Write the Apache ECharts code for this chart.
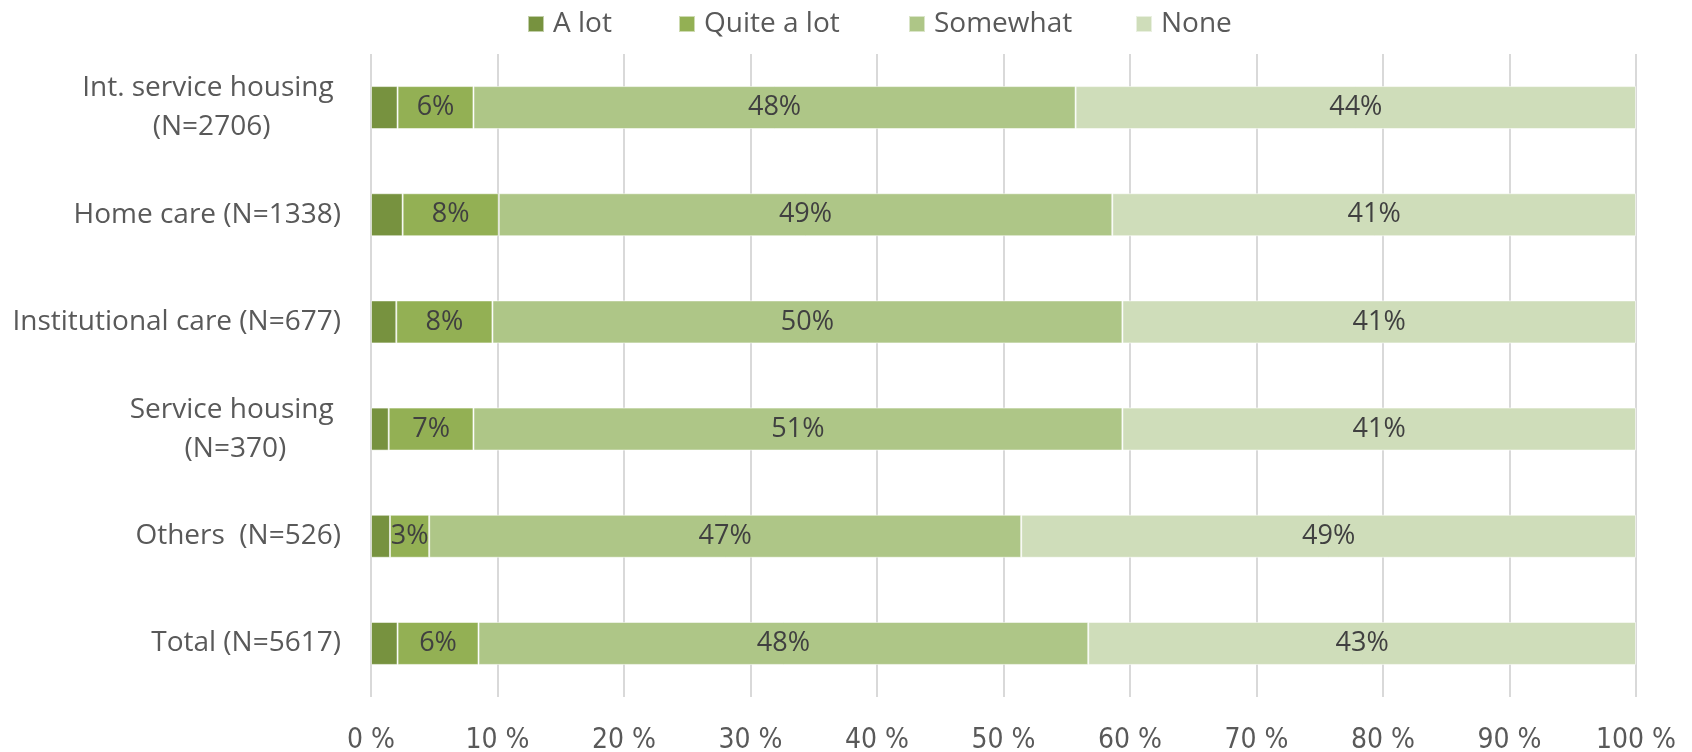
<!DOCTYPE html>
<html>
<head>
<meta charset="utf-8">
<script src="https://cdn.jsdelivr.net/npm/echarts@6/dist/echarts.min.js"></script>
<style>
  html, body { margin: 0; padding: 0; background: #fff; }
  #chart { width: 1692px; height: 752px; }
</style>
</head>
<body>
<div id="chart"></div>
<script>
// Care settings, top to bottom
const categories = [
  'Int. service housing \n(N=2706)',
  'Home care (N=1338)',
  'Institutional care (N=677)',
  'Service housing \n(N=370)',
  'Others  (N=526)',
  'Total (N=5617)'
];

// Share of respondents per answer, in percent
const aLot      = [2.1, 2.5, 2.0, 1.4, 1.5, 2.1];
const quiteALot = [6.0, 7.6, 7.6, 6.7, 3.1, 6.4];
const somewhat  = [47.6, 48.5, 49.8, 51.3, 46.8, 48.2];
const none      = [44.3, 41.4, 40.6, 40.6, 48.6, 43.3];

const xTicks = [0, 10, 20, 30, 40, 50, 60, 70, 80, 90, 100];

const seriesDefs = [
  { name: 'A lot',       data: aLot,      color: '#77923F', showLabel: false },
  { name: 'Quite a lot', data: quiteALot, color: '#93B054', showLabel: true },
  { name: 'Somewhat',    data: somewhat,  color: '#AEC687', showLabel: true },
  { name: 'None',        data: none,      color: '#CFDDBA', showLabel: true }
];

// horizontal placement of each legend entry
const legendLeft = [522, 673, 903, 1130];

const mainFont = '"Open Sans", "Segoe UI", sans-serif';
const axisFont = '"Liberation Sans Narrow", "DejaVu Sans Condensed", sans-serif';

const chart = echarts.init(document.getElementById('chart'), null, { renderer: 'canvas' });

chart.setOption({
  animation: false,
  backgroundColor: '#ffffff',
  legend: seriesDefs.map((s, i) => ({
    top: 5,
    left: legendLeft[i],
    itemWidth: 16,
    itemHeight: 16,
    icon: 'rect',
    textStyle: { color: '#595959', fontSize: 28, fontFamily: mainFont, padding: [0, 0, 0, 4] },
    data: [s.name]
  })),
  grid: { left: 371, right: 56, top: 54, bottom: 55, containLabel: false, outerBoundsMode: 'none' },
  xAxis: {
    type: 'value',
    min: xTicks[0],
    max: xTicks[xTicks.length - 1],
    interval: 10,
    axisLine: { show: false },
    axisTick: { show: false },
    splitLine: { show: true, lineStyle: { color: '#D9D9D9', width: 2 } },
    axisLabel: {
      color: '#595959',
      fontSize: 28,
      fontFamily: axisFont,
      margin: 30,
      formatter: v => v + ' %'
    }
  },
  yAxis: {
    type: 'category',
    inverse: true,
    data: categories,
    axisLine: { show: false },
    axisTick: { show: false },
    axisLabel: {
      margin: 30,
      align: 'right',
      color: '#595959',
      fontSize: 28,
      fontFamily: mainFont,
      lineHeight: 39,
      formatter: v => v.split('\n').map(line => '{c|' + line + '}').join('\n'),
      rich: {
        c: { align: 'center', color: '#595959', fontSize: 28, fontFamily: mainFont, lineHeight: 39 }
      }
    }
  },
  series: seriesDefs.map(s => ({
    name: s.name,
    type: 'bar',
    stack: 'total',
    barWidth: 43,
    data: s.data,
    itemStyle: { color: s.color, borderColor: 'rgba(255,255,255,0.55)', borderWidth: 1 },
    label: {
      show: s.showLabel,
      position: 'inside',
      color: '#404040',
      fontSize: 27,
      fontFamily: mainFont,
      formatter: p => Math.round(p.value) + '%'
    },
    emphasis: { disabled: true }
  }))
});
</script>
</body>
</html>
